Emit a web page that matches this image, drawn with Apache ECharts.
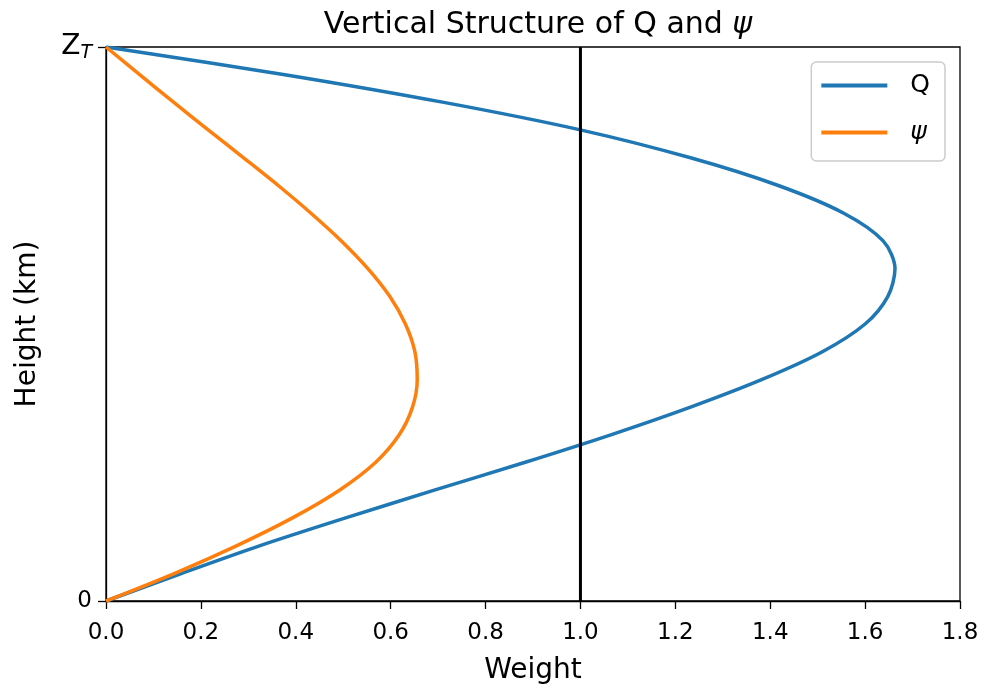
<!DOCTYPE html>
<html>
<head>
<meta charset="utf-8">
<script src="https://cdn.jsdelivr.net/npm/echarts@6/dist/echarts.min.js"></script>
<style>
html,body{margin:0;padding:0;background:#fff;}
#chart{width:987px;height:692px;}
</style>
</head>
<body>
<div id="chart"></div>
<script>
// Heights (fraction of Z_T) and weights
const qHeight = [0, 0.05, 0.10, 0.15, 0.20, 0.25, 0.30, 0.35, 0.40, 0.45, 0.50, 0.55, 0.60, 0.65, 0.70, 0.75, 0.80, 0.85, 0.90, 0.95, 1.0];
const qWeight = [0, 0.160, 0.325, 0.505, 0.692, 0.882, 1.064, 1.232, 1.383, 1.510, 1.600, 1.648, 1.663, 1.638, 1.555, 1.417, 1.232, 1.002, 0.712, 0.377, 0];

const psiHeight = [0, 0.05, 0.10, 0.15, 0.20, 0.25, 0.30, 0.35, 0.40, 0.45, 0.50, 0.55, 0.60, 0.65, 0.70, 0.75, 0.80, 0.85, 0.90, 0.95, 1.0];
const psiWeight = [0, 0.145, 0.276, 0.393, 0.492, 0.568, 0.618, 0.646, 0.656, 0.651, 0.631, 0.598, 0.552, 0.496, 0.432, 0.363, 0.290, 0.216, 0.143, 0.071, 0];

const refWeight = 1.0;
const xTicks = [0, 0.2, 0.4, 0.6, 0.8, 1.0, 1.2, 1.4, 1.6, 1.8];
const yTickLabels = {0: '0', 1: '{z|Z}{s|T}'};

const FONT = 'DejaVu Sans';
const chart = echarts.init(document.getElementById('chart'));

const qData = qHeight.map((h, i) => [qWeight[i], h]);
const psiData = psiHeight.map((h, i) => [psiWeight[i], h]);

chart.setOption({
  animation: false,
  backgroundColor: '#fff',
  title: {
    text: 'Vertical Structure of Q and {i|ψ}',
    left: 533, textAlign: 'center',
    top: 5,
    textStyle: {
      fontFamily: FONT, fontSize: 30, fontWeight: 'normal', color: '#000',
      rich: { i: { fontFamily: FONT, fontSize: 30, fontStyle: 'italic', color: '#000' } }
    }
  },
  legend: {
    orient: 'vertical',
    right: 42, top: 62,
    padding: [11, 15, 16, 10],
    itemWidth: 66, itemHeight: 4, itemGap: 22,
    icon: 'rect',
    backgroundColor: '#fff',
    borderColor: '#cccccc', borderWidth: 1.5, borderRadius: 5,
    textStyle: { fontFamily: FONT, fontSize: 25, color: '#000', padding: [0, 0, 0, 18] },
    data: [
      { name: 'Q', icon: 'rect' },
      { name: 'ψ', icon: 'rect', textStyle: { fontStyle: 'italic', fontFamily: FONT, fontSize: 25 } }
    ]
  },
  grid: {
    left: 106, right: 27, top: 47, bottom: 91,
    show: true, borderColor: '#000', borderWidth: 1.3, backgroundColor: '#fff'
  },
  xAxis: {
    type: 'value', min: 0, max: 1.8, interval: 0.2,
    name: 'Weight', nameLocation: 'middle', nameGap: 56,
    nameTextStyle: { fontFamily: FONT, fontSize: 28, color: '#000' },
    axisLine: { show: true, lineStyle: { color: '#000', width: 1.3 } },
    axisTick: { show: true, inside: false, length: 8, lineStyle: { color: '#000', width: 1.3 } },
    axisLabel: {
      fontFamily: FONT, fontSize: 23, color: '#000', margin: 21,
      formatter: v => v.toFixed(1)
    },
    splitLine: { show: false }
  },
  yAxis: {
    type: 'value', min: 0, max: 1, interval: 1,
    name: 'Height (km)', nameLocation: 'middle', nameGap: 64,
    nameTextStyle: { fontFamily: FONT, fontSize: 28, color: '#000' },
    axisLine: { show: true, lineStyle: { color: '#000', width: 1.3 } },
    axisTick: { show: true, inside: false, length: 8, lineStyle: { color: '#000', width: 1.3 } },
    axisLabel: {
      fontFamily: FONT, fontSize: 23, color: '#000', margin: 14,
      formatter: v => yTickLabels[Math.round(v)] || '',
      rich: {
        z: { fontFamily: FONT, fontSize: 28, color: '#000' },
        s: { fontFamily: FONT, fontSize: 19, fontStyle: 'italic', color: '#000', padding: [12, 0, 0, 0] }
      }
    },
    splitLine: { show: false }
  },
  series: [
    {
      name: 'Q', type: 'line', data: qData,
      symbol: 'none', smooth: 0.3,
      lineStyle: { color: '#1f77b4', width: 3.5 }, itemStyle: { color: '#1f77b4' }
    },
    {
      name: 'ψ', type: 'line', data: psiData,
      symbol: 'none', smooth: 0.3,
      lineStyle: { color: '#ff7f0e', width: 3.5 }, itemStyle: { color: '#ff7f0e' }
    },
    {
      name: 'ref', type: 'line', data: [[refWeight, 0], [refWeight, 1]],
      symbol: 'none', lineStyle: { color: '#000', width: 3 }, itemStyle: { color: '#000' }
    }
  ]
});
</script>
</body>
</html>
